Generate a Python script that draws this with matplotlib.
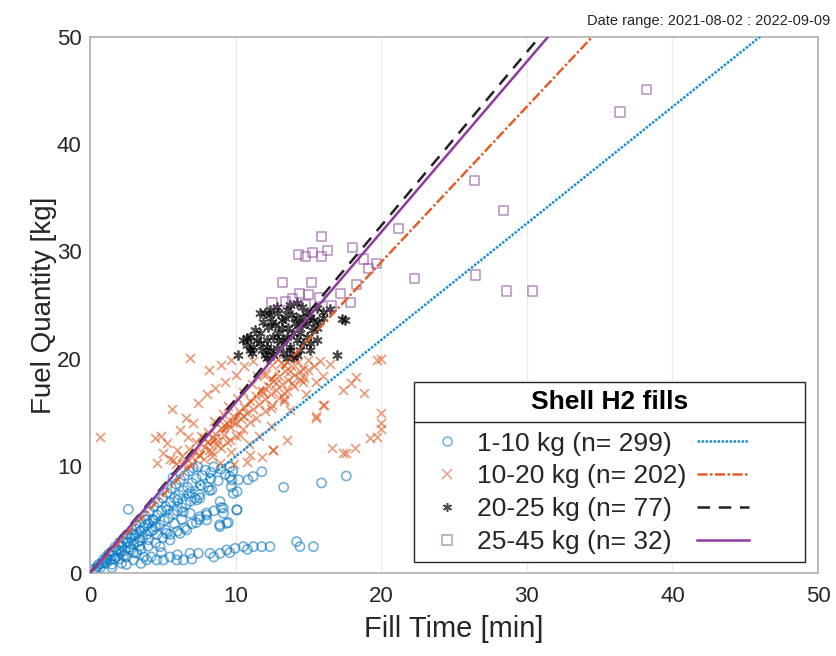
import numpy as np
import matplotlib
matplotlib.use("Agg")
import matplotlib.pyplot as plt
from matplotlib.lines import Line2D

plt.rcParams['font.family'] = ['Liberation Sans', 'DejaVu Sans']

# %% data (fill time [min], fuel quantity [kg])

blue_pts = [
    (0.3, 0.4), (0.5, 0.6), (0.6, 0.8), (0.8, 0.9), (0.9, 1.2), (1.0, 1.0), (1.1, 1.5), (1.2, 1.3),
    (1.3, 1.8), (1.4, 1.2), (1.5, 2.0), (1.6, 1.6), (1.7, 2.4), (1.8, 1.5), (1.9, 2.2), (2.0, 2.8),
    (2.1, 1.9), (2.2, 2.5), (2.3, 3.2), (2.4, 2.1), (2.5, 2.9), (2.6, 3.6), (2.7, 2.4), (2.8, 3.3),
    (2.9, 4.0), (3.0, 2.7), (3.1, 3.5), (3.2, 4.4), (3.3, 2.9), (3.4, 3.9), (3.5, 4.8), (3.6, 3.3),
    (3.7, 4.3), (3.8, 5.3), (3.9, 3.6), (4.0, 4.6), (4.1, 5.7), (4.2, 3.9), (4.3, 5.0), (4.4, 6.2),
    (4.5, 4.3), (4.6, 5.4), (4.7, 6.6), (4.8, 4.5), (4.9, 5.8), (5.0, 7.0), (5.1, 4.9), (5.2, 6.2),
    (5.3, 7.5), (5.4, 5.1), (5.5, 6.6), (5.6, 7.9), (5.7, 5.5), (5.8, 7.0), (5.9, 8.3), (6.0, 5.8),
    (6.1, 7.3), (6.2, 8.7), (6.3, 6.1), (6.4, 7.7), (6.5, 9.1), (6.6, 6.4), (6.7, 8.0), (6.8, 9.5),
    (6.9, 6.7), (7.0, 8.4), (7.1, 9.8), (7.2, 7.0), (7.3, 8.8), (7.4, 9.9), (7.5, 7.3), (7.7, 9.1),
    (7.9, 9.6), (8.1, 8.0), (8.3, 9.4), (8.5, 9.9), (8.8, 8.6), (9.0, 9.7), (9.3, 9.2), (9.6, 9.9),
    (0.4, 0.3), (0.7, 0.5), (1.1, 0.9), (1.7, 1.3), (2.3, 1.6), (2.8, 2.2), (3.4, 2.5), (4.0, 3.1),
    (4.6, 3.6), (5.2, 4.0), (5.8, 4.6), (6.3, 5.0), (2.0, 2.1), (2.6, 2.8), (3.0, 3.6), (3.5, 3.9),
    (4.4, 4.9), (5.3, 5.9), (6.0, 6.8), (6.8, 7.4), (7.6, 8.2), (8.3, 8.8), (9.8, 9.5), (5.7, 8.9),
    (1.5, 0.8), (2.0, 1.3), (2.5, 1.5), (3.0, 1.9), (3.5, 2.2), (4.0, 2.5), (4.5, 2.8), (5.0, 3.3),
    (5.5, 3.6), (6.0, 3.9), (6.5, 4.2), (7.0, 4.6), (7.5, 5.0), (8.0, 5.4), (8.5, 5.8), (9.0, 6.1),
    (9.73, 8.68), (9.84, 7.43), (8.36, 7.75), (8.93, 6.66), (10.07, 5.88), (9.16, 5.57), (9.39, 4.64),
    (8.93, 4.33), (7.33, 6.81), (7.55, 5.26), (8.01, 4.95), (6.87, 5.57), (6.18, 3.70), (6.64, 4.02),
    (4.81, 2.46), (5.27, 3.70), (3.89, 4.95), (4.35, 4.02), (3.43, 3.08), (5.49, 3.08), (2.63, 5.94),
    (13.3, 8.0), (15.9, 8.4), (17.6, 9.05), (11.8, 9.45), (11.2, 9.0), (10.85, 8.7), (9.6, 9.0),
    (10.2, 8.7), (9.7, 8.05), (10.1, 7.6), (8.2, 7.7), (7.55, 7.0), (9.15, 6.06), (10.1, 5.9),
    (9.5, 4.7), (8.9, 4.5), (8.0, 5.6), (7.3, 4.7), (6.4, 5.7),
    (2.17, 0.91), (2.98, 1.22), (3.20, 1.84), (3.89, 1.22), (4.58, 1.22), (5.04, 1.22), (5.95, 1.22),
    (6.41, 1.22), (6.87, 1.84), (7.44, 1.84), (8.24, 1.84), (8.93, 1.84), (9.39, 2.15), (9.96, 2.3),
    (10.53, 2.46), (11.22, 2.46), (11.79, 2.46), (12.36, 2.46), (14.19, 2.93), (14.42, 2.46),
    (15.34, 2.46), (1.5, 0.5), (2.5, 0.8), (3.5, 0.9), (4.2, 1.5), (5.5, 1.5), (7.0, 1.3), (8.5, 1.5),
    (9.6, 1.9), (10.8, 2.2), (6.0, 1.7), (4.9, 1.9), (3.7, 1.5),
]

orange_pts = [
    (0.69, 12.7), (6.87, 20.1), (20.0, 20.0), (19.7, 19.9), (17.4, 17.1), (17.9, 17.7), (18.3, 18.3),
    (18.8, 16.8), (16.1, 15.7), (15.5, 14.5), (20.0, 14.9), (20.0, 14.0), (20.0, 13.4), (19.7, 12.7),
    (19.2, 12.6), (18.2, 11.7), (17.6, 11.2), (16.6, 11.7), (13.5, 12.4), (12.6, 11.5), (13.7, 15.2),
    (13.3, 16.8), (13.3, 16.2), (13.9, 17.7), (14.4, 18.8), (14.7, 18.2), (13.7, 18.8), (12.8, 17.7),
    (11.9, 18.6), (12.4, 15.4), (5.6, 15.3), (4.46, 12.6), (7.1, 14.0), (6.7, 12.7), (7.8, 12.6),
    (8.7, 11.9), (8.4, 11.3), (9.7, 11.3), (11.0, 11.0), (11.8, 10.85), (12.6, 11.5), (10.8, 10.4),
    (5.7, 10.5), (17.4, 11.2), (15.5, 14.6), (16.0, 15.7), (13.3, 16.0), (14.6, 17.8), (11.9, 16.8),
    (10.5, 14.6), (9.8, 14.1), (9.6, 12.4), (10.3, 12.9), (9.2, 13.8),
    (6.5, 10.3), (7.0, 10.8), (7.2, 11.3), (7.5, 11.0), (7.8, 11.8), (8.0, 12.2), (8.2, 11.5),
    (8.4, 12.6), (8.6, 13.0), (8.8, 12.3), (9.0, 13.5), (9.2, 12.9), (9.4, 14.0), (9.6, 13.6),
    (9.8, 14.6), (10.0, 14.0), (10.2, 15.1), (10.4, 14.4), (10.6, 15.5), (10.8, 14.9), (11.0, 16.0),
    (11.2, 15.3), (11.4, 16.5), (11.6, 15.8), (11.8, 17.0), (12.0, 16.2), (12.2, 17.4), (12.4, 16.7),
    (12.6, 17.9), (12.8, 17.1), (13.0, 18.4), (13.2, 17.6), (13.4, 18.8), (13.6, 18.0), (13.8, 19.3),
    (14.0, 18.5), (14.3, 19.7), (14.6, 19.0), (7.3, 12.2), (8.1, 13.2), (9.1, 14.8), (10.1, 16.3),
    (11.1, 17.6), (12.1, 18.6), (13.1, 19.6), (6.8, 11.6), (7.6, 12.8), (8.5, 14.2), (9.5, 15.6),
    (10.5, 16.9), (11.5, 18.4), (12.5, 19.4), (5.9, 10.2), (6.3, 10.9), (6.0, 11.5), (5.5, 10.6),
    (6.4, 10.1), (7.0, 10.2), (7.8, 10.6), (8.4, 10.9), (9.0, 11.7), (9.4, 12.2), (10.0, 12.8),
    (10.5, 13.4), (11.0, 14.1), (11.4, 14.5), (12.0, 15.1), (12.5, 15.7), (13.0, 16.3), (13.5, 17.0),
    (14.0, 17.4), (14.4, 18.1), (15.0, 18.9), (15.4, 19.3), (15.8, 19.8), (16.5, 19.5), (16.0, 18.4),
    (15.5, 17.8), (14.8, 16.7), (12.4, 13.7), (11.6, 12.8), (10.9, 12.0), (8.9, 10.3), (9.9, 10.2),
    (4.6, 10.3), (5.0, 11.2), (5.3, 12.1), (4.9, 12.8), (6.2, 13.3), (6.6, 14.5), (7.4, 15.9),
    (8.0, 16.7), (8.6, 17.3), (9.3, 17.8), (10.0, 18.5), (10.6, 19.3), (11.2, 19.8), (12.9, 20.0),
    (14.0, 20.0), (15.0, 19.9), (8.2, 18.9), (9.0, 19.4), (9.7, 19.9),
]

black_pts = [
    (10.19, 20.33), (10.76, 21.89), (10.99, 22.04), (11.33, 22.66), (11.67, 24.28), (12.02, 24.22),
    (12.36, 24.06), (12.82, 24.84), (13.16, 23.60), (13.51, 24.53), (13.74, 25.0), (14.19, 25.15),
    (14.54, 24.84), (14.88, 24.37), (15.11, 23.91), (15.57, 24.69), (16.02, 24.37), (16.48, 24.59),
    (17.28, 23.66), (17.51, 23.60), (11.22, 21.11), (11.67, 21.42), (12.13, 21.73), (12.59, 22.04),
    (12.93, 22.35), (13.28, 21.73), (13.74, 21.11), (14.19, 21.73), (14.65, 21.42), (15.11, 21.42),
    (13.28, 20.49), (13.74, 20.80), (14.19, 20.33), (12.82, 20.95), (12.36, 20.80), (12.02, 20.33),
    (10.99, 20.80), (10.53, 21.73), (11.67, 22.35), (12.25, 22.98), (12.71, 23.13), (13.16, 22.82),
    (13.62, 22.82), (14.08, 23.29), (14.54, 23.13), (14.88, 23.29), (15.34, 23.60), (15.68, 23.44),
    (16.02, 23.75), (16.94, 20.33), (14.88, 22.04), (14.42, 22.35), (13.96, 22.35), (13.51, 22.04),
    (12.93, 21.73), (12.13, 21.11), (11.45, 21.73), (10.76, 21.27), (14.19, 23.75), (14.65, 23.91),
    (13.85, 24.06), (13.39, 23.75), (12.48, 23.44), (11.90, 23.44), (15.22, 22.66), (15.57, 22.82),
    (12.93, 24.22), (12.36, 24.53), (14.42, 20.80), (13.96, 20.18), (13.51, 20.02), (11.79, 20.80),
    (11.10, 20.49), (12.59, 20.33), (12.13, 20.02), (15.11, 20.80), (15.57, 21.73),
]

purple_pts = [
    (38.2, 45.1), (36.4, 43.0), (26.4, 36.6), (28.4, 33.8), (28.6, 26.3), (30.4, 26.3), (26.5, 27.8),
    (22.3, 27.5), (21.2, 32.1), (18.0, 30.4), (18.8, 29.3), (19.1, 28.4), (19.7, 28.9), (18.3, 26.9),
    (17.9, 25.2), (14.3, 29.7), (14.8, 29.5), (15.3, 29.9), (15.9, 29.5), (16.3, 30.1), (15.9, 31.4),
    (13.2, 27.1), (15.2, 27.1), (14.4, 26.1), (15.0, 26.0), (17.2, 26.1), (12.5, 25.2), (13.4, 25.3),
    (15.8, 25.7), (13.9, 25.6), (16.6, 24.9), (14.8, 25.0),
]

group_labels = ["1-10 kg (n= 299)", "10-20 kg (n= 202)", "20-25 kg (n= 77)", "25-45 kg (n= 32)"]
fit_slopes = [1.087, 1.45, 1.62, 1.59]  # kg/min, lines through origin
date_range = "Date range: 2021-08-02 : 2022-09-09"

colors = ['#0072BD', '#D95319', '#000000', '#7E2F8E']
line_colors = ['#1A8FD8', '#E0602A', '#222222', '#8E3A9E']
markers = ['o', 'x', (6, 2, 0), 's']
line_styles = [(0, (1, 0.6)), (0, (4, 1, 1, 1)), (0, (5, 3.5)), '-']

# %% plot
fig = plt.figure(figsize=(8.36, 6.56), dpi=100)
ax = fig.add_axes([0.1077, 0.1265, 0.8708, 0.8171])

groups = [blue_pts, orange_pts, black_pts, purple_pts]
alphas = [0.55, 0.55, 0.7, 0.5]
for pts, c, m, a in zip(groups, colors, markers, alphas):
    xy = np.array(pts)
    if m == 'x' or isinstance(m, tuple):
        ax.scatter(xy[:, 0], xy[:, 1], s=42, marker=m, color=c, alpha=a, linewidths=1.3, zorder=2)
    else:
        ax.scatter(xy[:, 0], xy[:, 1], s=44, marker=m, facecolors='none', edgecolors=c,
                   alpha=a, linewidths=1.2, zorder=2)

xl = np.array([0, 50])
line_handles = []
for k, c, ls in zip(fit_slopes, line_colors, line_styles):
    h, = ax.plot(xl, k * xl, color=c, ls=ls, lw=1.8, zorder=3)
    line_handles.append(h)

ax.set_xlim(0, 50)
ax.set_ylim(0, 50)
ax.set_xticks([0, 10, 20, 30, 40, 50])
ax.set_yticks([0, 10, 20, 30, 40, 50])
ax.xaxis.grid(True, color='#ebebeb', lw=1)
ax.set_axisbelow(True)
ax.tick_params(labelsize=16, direction='in', length=0, colors='#262626')
ax.tick_params(axis='x', pad=9)
ax.tick_params(axis='y', pad=6)
for s in ax.spines.values():
    s.set_color('#b0b0b0')
    s.set_linewidth(1.2)
ax.set_xlabel("Fill Time [min]", fontsize=21, color='#262626', labelpad=6)
ax.set_ylabel("Fuel Quantity [kg]", fontsize=20, color='#262626', labelpad=0)

fig.text(0.993, 0.968, date_range, ha='right', va='center', fontsize=10.5, color='#262626',
         family=['Liberation Sans Narrow', 'Liberation Sans'])

# legend: marker + label in first column, fit line in second
marker_handles = []
for c, m, a in zip(colors, markers, alphas):
    if m == 's' or m == 'o':
        marker_handles.append(Line2D([], [], ls='none', marker=m, ms=6.5, mfc='none', mec=c,
                                     alpha=a, mew=1.1))
    else:
        marker_handles.append(Line2D([], [], ls='none', marker=m, ms=6.5, color=c, alpha=a, mew=1.1))
pad_label = ' ' * 6
leg = ax.legend(marker_handles + line_handles, group_labels + [pad_label] * 4, ncol=2,
                loc='lower right', bbox_to_anchor=(0.982, 0.021), fontsize=19,
                title="Shell H2 fills", title_fontproperties={'weight': 'bold', 'size': 19},
                handlelength=1.97, handletextpad=0.15, columnspacing=0.38, labelspacing=0.33,
                borderpad=0.3, borderaxespad=0, frameon=True, fancybox=False,
                edgecolor='#262626', framealpha=1)
leg.get_frame().set_linewidth(1.0)
leg._legend_box.sep = 13
for t in leg.get_texts():
    t.set_color('#262626')

fig.canvas.draw()
inv = fig.transFigure.inverted()
lb = leg.get_window_extent()
tb = leg.get_title().get_window_extent()
ysep = tb.y0 - 8
p0 = inv.transform((lb.x0, ysep))
p1 = inv.transform((lb.x1, ysep))
fig.add_artist(Line2D([p0[0], p1[0]], [p0[1], p1[1]], color='#262626', lw=1.0,
                      transform=fig.transFigure))

fig.savefig("out.png", dpi=100)
